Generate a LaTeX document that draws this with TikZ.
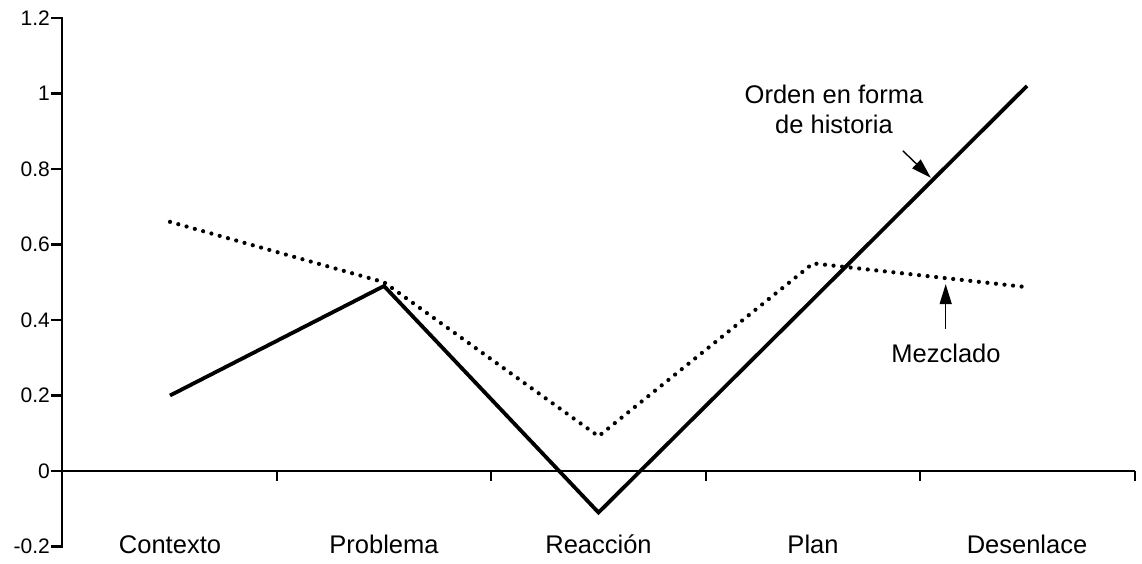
\documentclass[tikz,border=0pt]{standalone}
\usepackage{fontspec}
\setmainfont{Liberation Sans}
\usetikzlibrary{arrows.meta,calc}
\begin{document}
\begin{tikzpicture}[x=1pt,y=1pt,
  axisline/.style={line width=2.4pt},
  storyline/.style={line width=3.8pt, line join=miter},
  mixedline/.style={line width=4.2pt, line cap=round, dash pattern=on 0pt off 8.6pt},
  ticklabel/.style={font=\fontsize{21}{25}\selectfont, anchor=east, inner sep=0pt},
  catlabel/.style={font=\fontsize{25.5}{30}\selectfont, anchor=base, inner sep=0pt},
  note/.style={font=\fontsize{25.5}{30}\selectfont, inner sep=0pt, align=center},
  pointer/.style={line width=1.4pt, -{Triangle[length=20pt,width=12pt]}}]
\useasboundingbox (0,0) rectangle (1142,563);

% data frame: one unit of value = 377.5pt, zero line 92pt above the bottom
\begin{scope}[y=377.5pt, yshift=92pt]
  % axes
  \draw[axisline] (51,1.2) -- (62,1.2) -- (62,-0.2) -- (51,-0.2);
  \foreach \v in {1,0.8,0.6,0.4,0.2,0}
    \draw[axisline] (51,\v) -- (62,\v);
  \foreach \v/\t in {1.2/1.2,1/1,0.8/0.8,0.6/0.6,0.4/0.4,0.2/0.2,0/0,-0.2/-0.2}
    \node[ticklabel] (yl\t) at (50,\v) {\t};
  \draw[axisline] (62,0) -- (1135,0);
  \foreach \x in {277,491,706,920,1135}
    \draw[axisline] (\x,0) -- ++(0,-10pt);

  % series points
  \coordinate (s1) at (170,0.2);
  \coordinate (s2) at (384,0.49);
  \coordinate (s3) at (598.5,-0.11);
  \coordinate (s4) at (813,0.455);
  \coordinate (s5) at (1027,1.02);
  \coordinate (m1) at (170,0.66);
  \coordinate (m2) at (384,0.5);
  \coordinate (m3) at (598.5,0.092);
  \coordinate (m4) at (813,0.55);
  \coordinate (m5) at (1027,0.487);

  \draw[mixedline] (m1) -- (m2) -- (m3) -- (m4) -- (m5);
  \draw[storyline] (s1) -- (s2) -- (s3) -- (s4) -- (s5);

  \path (s4) -- (s5) coordinate[pos=0.56] (hitA);
  \path (m4) -- (m5) coordinate[pos=0.62] (hitB);
\end{scope}

% category labels
\node[catlabel] (c1) at (170,10) {Contexto};
\node[catlabel] (c2) at (384,10) {Problema};
\node[catlabel] (c3) at (598.5,10) {Reacción};
\node[catlabel] (c4) at (813,10) {Plan};
\node[catlabel] (c5) at (1027,10) {Desenlace};

% series annotations
\node[note, anchor=north] (story) at (834,478.6) {Orden en forma\\de historia};
\node[catlabel] (mixed) at (946,201) {Mezclado};

\coordinate (tipA) at ($(hitA)+(-2,2)$);
\coordinate (tailA) at ($(tipA)+(-28,27)$);
\draw[pointer] (tailA) -- (tipA);

\coordinate (tipB) at ($(hitB)+(0,-6)$);
\coordinate (tailB) at ($(tipB)+(0,-45)$);
\draw[pointer] (tailB) -- (tipB);
\end{tikzpicture}
\end{document}
